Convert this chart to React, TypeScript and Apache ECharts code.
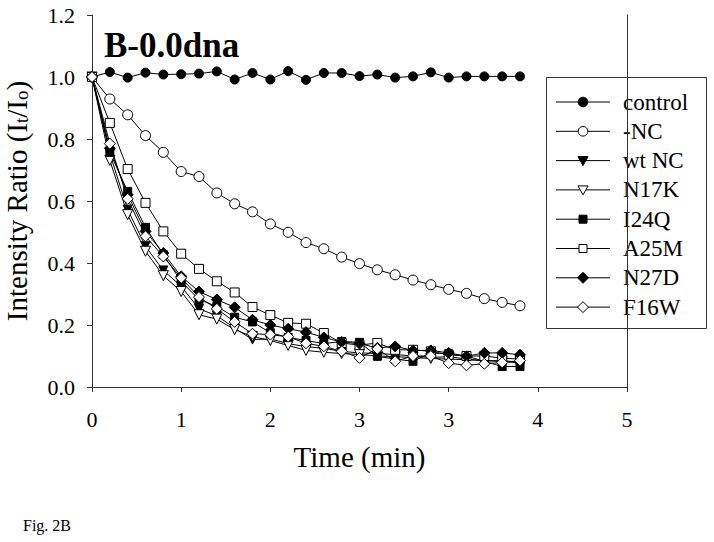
import React, { useEffect, useRef } from "react";
import * as echarts from "echarts";

const FONT = "'Liberation Serif', 'Times New Roman', Times, serif";

// time in seconds
const times = [0, 10, 20, 30, 40, 50, 60, 70, 80, 90, 100, 110, 120, 130, 140, 150, 160, 170, 180, 190, 200, 210, 220, 230, 240];
const xTickLabels = ["0", "1", "2", "3", "3", "4", "5"];

const control = [1.0, 1.016, 0.998, 1.014, 1.008, 1.009, 1.011, 1.018, 0.992, 1.013, 0.992, 1.019, 0.991, 1.013, 1.013, 1.003, 1.008, 0.998, 1.002, 1.015, 0.998, 1.002, 1.002, 1.002, 1.002];
const negNC = [1.0, 0.929, 0.878, 0.811, 0.757, 0.695, 0.679, 0.626, 0.591, 0.565, 0.526, 0.499, 0.466, 0.446, 0.419, 0.398, 0.378, 0.362, 0.345, 0.33, 0.315, 0.302, 0.285, 0.273, 0.262];
const wtNC = [1.0, 0.753, 0.572, 0.454, 0.376, 0.325, 0.252, 0.23, 0.19, 0.153, 0.155, 0.14, 0.13, 0.125, 0.115, 0.11, 0.108, 0.105, 0.1, 0.095, 0.098, 0.09, 0.085, 0.085, 0.08];
const n17k = [1.0, 0.731, 0.556, 0.438, 0.359, 0.308, 0.233, 0.219, 0.185, 0.163, 0.15, 0.134, 0.118, 0.112, 0.108, 0.105, 0.1, 0.098, 0.095, 0.092, 0.09, 0.088, 0.085, 0.082, 0.078];
const i24q = [1.0, 0.757, 0.631, 0.515, 0.427, 0.341, 0.282, 0.26, 0.225, 0.21, 0.175, 0.16, 0.15, 0.14, 0.147, 0.144, 0.099, 0.09, 0.083, 0.11, 0.107, 0.1, 0.083, 0.066, 0.066];
const a25m = [1.0, 0.852, 0.703, 0.594, 0.502, 0.43, 0.381, 0.341, 0.305, 0.258, 0.232, 0.207, 0.204, 0.174, 0.142, 0.135, 0.142, 0.12, 0.12, 0.115, 0.104, 0.1, 0.1, 0.093, 0.09];
const n27d = [1.0, 0.77, 0.62, 0.502, 0.432, 0.357, 0.308, 0.282, 0.257, 0.217, 0.2, 0.188, 0.177, 0.16, 0.145, 0.14, 0.126, 0.131, 0.118, 0.118, 0.11, 0.099, 0.11, 0.11, 0.104];
const f16w = [1.0, 0.785, 0.607, 0.486, 0.421, 0.352, 0.29, 0.252, 0.21, 0.172, 0.169, 0.162, 0.141, 0.131, 0.115, 0.094, 0.123, 0.083, 0.1, 0.1, 0.077, 0.07, 0.075, 0.079, 0.085];

type S = { name: string; values: number[]; symbol: string; size: number; filled: boolean; rotate?: number };
const seriesDefs: S[] = [
  { name: "control", values: control, symbol: "circle", size: 9, filled: true },
  { name: "-NC", values: negNC, symbol: "circle", size: 10, filled: false },
  { name: "wt NC", values: wtNC, symbol: "triangle", size: 9, filled: true, rotate: 180 },
  { name: "N17K", values: n17k, symbol: "triangle", size: 10, filled: false, rotate: 180 },
  { name: "I24Q", values: i24q, symbol: "rect", size: 8, filled: true },
  { name: "A25M", values: a25m, symbol: "rect", size: 9, filled: false },
  { name: "N27D", values: n27d, symbol: "diamond", size: 11, filled: true },
  { name: "F16W", values: f16w, symbol: "diamond", size: 11, filled: false },
];

// legend box layout (pixels)
const LEG = { x: 546, y: 77, w: 160, h: 251, firstRow: 102, rowStep: 29.3, lineX0: 556, lineX1: 610, textX: 623 };

function legendIcon(s: S, cx: number, cy: number) {
  const style = { fill: s.filled ? "#000" : "#fff", stroke: "#000", lineWidth: 1 };
  if (s.symbol === "circle") return { type: "circle", shape: { cx, cy, r: 4.8 }, style };
  if (s.symbol === "triangle")
    return { type: "polygon", shape: { points: [[cx - 5, cy - 4], [cx + 5, cy - 4], [cx, cy + 5]] }, style };
  if (s.symbol === "rect") return { type: "rect", shape: { x: cx - 4, y: cy - 4, width: 8, height: 8 }, style };
  return { type: "polygon", shape: { points: [[cx, cy - 5.5], [cx + 5.5, cy], [cx, cy + 5.5], [cx - 5.5, cy]] }, style };
}

export default function App() {
  const ref = useRef<HTMLDivElement>(null);
  useEffect(() => {
    if (!ref.current) return;
    const chart = echarts.init(ref.current, null, { renderer: "svg" });
    const axisColor = "#333";

    const legendChildren: any[] = [
      {
        type: "rect",
        shape: { x: LEG.x + 0.5, y: LEG.y + 0.5, width: LEG.w, height: LEG.h },
        style: { fill: "#fff", stroke: axisColor, lineWidth: 1 },
      },
    ];
    seriesDefs.forEach((s, i) => {
      const cy = LEG.firstRow + i * LEG.rowStep;
      const cx = (LEG.lineX0 + LEG.lineX1) / 2;
      legendChildren.push({
        type: "line",
        shape: { x1: LEG.lineX0, y1: cy, x2: LEG.lineX1, y2: cy },
        style: { stroke: "#000", lineWidth: 1 },
      });
      legendChildren.push(legendIcon(s, cx, cy));
      legendChildren.push({
        type: "text",
        x: LEG.textX,
        y: cy,
        style: { text: s.name, fontFamily: FONT, fontSize: 23, fill: "#000", verticalAlign: "middle", align: "left" },
      });
    });

    chart.setOption({
      animation: false,
      backgroundColor: "#fff",
      textStyle: { fontFamily: FONT, color: "#000" },
      grid: { left: 92, right: 87, top: 15, bottom: 155, containLabel: false, outerBoundsMode: "none" },
      graphic: [
        {
          type: "text",
          left: 104,
          top: 28,
          style: { text: "B-0.0dna", fontFamily: FONT, fontSize: 35, fontWeight: "bold", fill: "#000" },
        },
        {
          type: "text",
          left: 23,
          top: 517,
          style: { text: "Fig. 2B", fontFamily: FONT, fontSize: 16, fill: "#000" },
        },
        { type: "group", z: 100, children: legendChildren },
      ],
      legend: { show: false },
      xAxis: {
        type: "value",
        min: 0,
        max: 300,
        interval: 50,
        name: "Time (min)",
        nameLocation: "middle",
        nameGap: 55,
        nameTextStyle: { fontFamily: FONT, fontSize: 29, color: "#000" },
        axisLine: { show: true, onZero: false, lineStyle: { color: axisColor, width: 1 } },
        axisTick: { show: true, inside: false, length: 5, lineStyle: { color: axisColor } },
        axisLabel: {
          fontFamily: FONT,
          fontSize: 22,
          color: "#000",
          margin: 21,
          formatter: (v: number) => xTickLabels[Math.round(v / 50)] ?? "",
        },
        splitLine: { show: false },
      },
      yAxis: [
        {
          type: "value",
          min: 0,
          max: 1.2,
          interval: 0.2,
          name: "Intensity Ratio (I{sub|t}/I{sub|o})",
          nameLocation: "middle",
          nameGap: 61,
          nameTextStyle: {
            fontFamily: FONT,
            fontSize: 29,
            color: "#000",
            rich: {
              sub: { fontFamily: FONT, fontSize: 19, color: "#000", verticalAlign: "bottom", padding: [10, 0, 0, 0] },
            },
          },
          axisLine: { show: true, lineStyle: { color: axisColor, width: 1 } },
          axisTick: { show: true, inside: false, length: 5, lineStyle: { color: axisColor } },
          axisLabel: {
            fontFamily: FONT,
            fontSize: 22,
            color: "#000",
            margin: 17,
            formatter: (v: number) => v.toFixed(1),
          },
          splitLine: { show: false },
        },
        {
          type: "value",
          position: "right",
          min: 0,
          max: 1.2,
          interval: 0.2,
          axisLine: { show: true, lineStyle: { color: axisColor, width: 1 } },
          axisTick: { show: false },
          axisLabel: { show: false },
          splitLine: { show: false },
        },
      ],
      series: seriesDefs.map((s) => ({
        name: s.name,
        type: "line",
        yAxisIndex: 0,
        data: s.values.map((v, i) => [times[i], v]),
        symbol: s.symbol,
        symbolSize: s.size,
        symbolRotate: s.rotate ?? 0,
        showAllSymbol: true,
        lineStyle: { color: "#000", width: 1 },
        itemStyle: {
          color: s.filled ? "#000" : "#fff",
          borderColor: "#000",
          borderWidth: 1,
        },
        emphasis: { disabled: true },
      })),
    });
    return () => chart.dispose();
  }, []);
  return <div ref={ref} style={{ position: "fixed", left: 0, top: 0, width: 714, height: 542 }} />;
}
